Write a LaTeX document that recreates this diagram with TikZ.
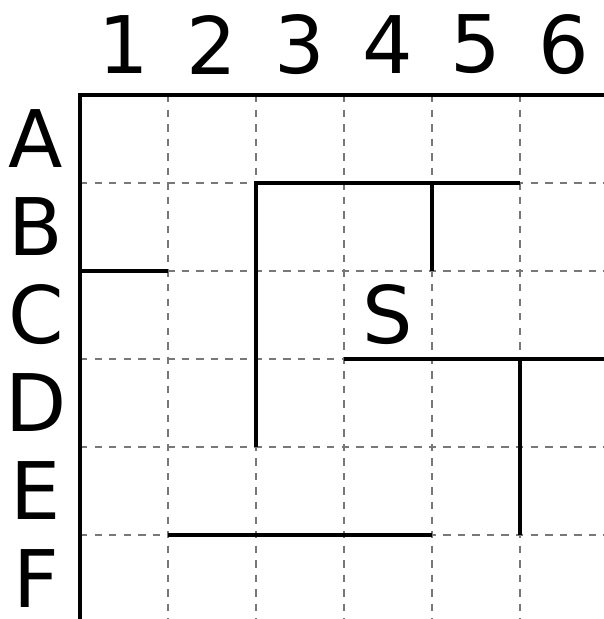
\documentclass[tikz,border=0pt]{standalone}
\usepackage{fontspec}
\setmainfont{DejaVu Sans}
\usepackage{tikz}
\usetikzlibrary{positioning, calc}
\definecolor{GridGray}{RGB}{120, 120, 120}

\begin{document}
\begin{tikzpicture}[
    x=1cm, y=1cm,
    label/.style={inner sep=0pt, font=\fontsize{25.7}{30}\selectfont},
    gridline/.style={draw=GridGray, line width=0.65pt, dash pattern=on 2.4pt off 2.3pt},
    border/.style={draw=black, line width=1.3pt},
    wall/.style={draw=black, line width=1.2pt}
]
    \useasboundingbox (-0.909,1.080) rectangle (5.955,-5.955);

    % Grid points
    \foreach \c in {0,...,6} {
        \foreach \r in {0,...,6} {
            \coordinate (g\c\r) at (\c,-\r);
        }
    }
    \coordinate (edgeR) at (5.955,0);
    \coordinate (edgeB) at (0,-5.955);

    % Dashed grid
    \foreach \c in {1,...,5} {
        \draw [gridline] (g\c0) -- (\c,-5.955);
    }
    \foreach \r in {1,...,5} {
        \draw [gridline] (g0\r) -- (5.955,-\r);
    }

    % Outer border
    \draw [border] (edgeB) -- (g00) -- (edgeR);

    % Column and row labels
    \foreach \c in {1,...,6} {
        \node (col\c) [label] at (\c-0.5,0.574) {\c};
    }
    \foreach \l [count=\r] in {A,B,C,D,E,F} {
        \node (row\l) [label] at (-0.5,-\r+0.5) {\l};
    }

    % Walls
    \draw [wall] (g24) -- (g21) -- (g51);
    \draw [wall] (g41) -- (g42);
    \draw [wall] (g02) -- (g12);
    \draw [wall] (g33) -- (g63);
    \draw [wall] (g53) -- (g55);
    \draw [wall] (g15) -- (g45);

    % Start
    \node (start) [label] at (3.5,-2.5) {S};

\end{tikzpicture}
\end{document}
